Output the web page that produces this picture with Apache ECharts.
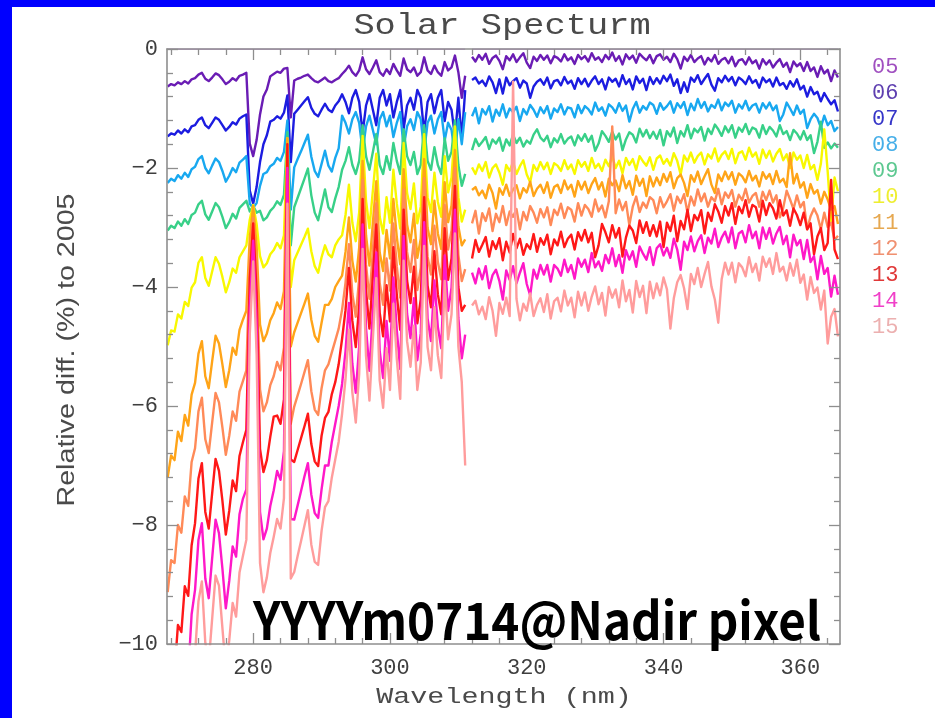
<!DOCTYPE html>
<html>
<head>
<meta charset="utf-8">
<script src="https://cdn.jsdelivr.net/npm/echarts@6/dist/echarts.min.js"></script>
<style>
html,body{margin:0;padding:0;background:#ffffff;}
#chart{width:935px;height:718px;}
</style>
</head>
<body>
<div id="chart"></div>
<script>
// Sampling grids (nm) of the two UV channels
const wavelengthUV1 = [267.5,268,268.5,269,269.5,270,270.5,271,271.5,272,272.5,273,273.5,274,274.5,275,275.5,276,276.5,277,277.5,278,278.5,279,279.5,280,280.5,281,281.5,282,282.5,283,283.5,284,284.5,285,285.5,286,286.5,287,287.5,288,288.5,289,289.5,290,290.5,291,291.5,292,292.5,293,293.5,294,294.5,295,295.5,296,296.5,297,297.5,298,298.5,299,299.5,300,300.5,301,301.5,302,302.5,303,303.5,304,304.5,305,305.5,306,306.5,307,307.5,308,308.5,309,309.5,310,310.5,311];
const wavelengthUV2 = [312,312.5,313,313.5,314,314.5,315,315.5,316,316.5,317,317.5,318,318.5,319,319.5,320,320.5,321,321.5,322,322.5,323,323.5,324,324.5,325,325.5,326,326.5,327,327.5,328,328.5,329,329.5,330,330.5,331,331.5,332,332.5,333,333.5,334,334.5,335,335.5,336,336.5,337,337.5,338,338.5,339,339.5,340,340.5,341,341.5,342,342.5,343,343.5,344,344.5,345,345.5,346,346.5,347,347.5,348,348.5,349,349.5,350,350.5,351,351.5,352,352.5,353,353.5,354,354.5,355,355.5,356,356.5,357,357.5,358,358.5,359,359.5,360,360.5,361,361.5,362,362.5,363,363.5,364,364.5,365,365.5];

// Year labels
const years = ['05','06','07','08','09','10','11','12','13','14','15'];

// 2005 is the reference year: zero difference
const ref05Wavelength = [267.5, 311, 312, 365.5];
const diff05 = [0, 0, 0, 0];

// Relative difference (%) to 2005, UV1 channel
const diff06UV1 = [-0.63,-0.59,-0.61,-0.56,-0.59,-0.54,-0.58,-0.51,-0.49,-0.43,-0.40,-0.50,-0.54,-0.48,-0.41,-0.44,-0.51,-0.59,-0.55,-0.49,-0.53,-0.45,-0.43,-0.40,-1.59,-1.80,-1.53,-1.10,-0.80,-0.68,-0.46,-0.42,-0.38,-0.40,-0.33,-0.32,-1.15,-0.53,-0.50,-0.48,-0.45,-0.43,-0.49,-0.54,-0.56,-0.52,-0.48,-0.54,-0.56,-0.52,-0.49,-0.42,-0.36,-0.28,-0.39,-0.45,-0.36,-0.14,-0.34,-0.42,-0.31,-0.19,-0.39,-0.45,-0.34,-0.42,-0.25,-0.36,-0.45,-0.16,-0.34,-0.39,-0.31,-0.45,-0.39,-0.14,-0.36,-0.42,-0.28,-0.39,-0.45,-0.22,-0.36,-0.31,-0.11,-0.39,-0.82,-0.45];
const diff07UV1 = [-1.47,-1.42,-1.44,-1.37,-1.42,-1.35,-1.40,-1.30,-1.28,-1.19,-1.15,-1.28,-1.33,-1.24,-1.15,-1.19,-1.28,-1.37,-1.31,-1.23,-1.27,-1.17,-1.13,-1.10,-2.38,-2.60,-2.32,-1.90,-1.60,-1.45,-1.22,-1.19,-1.13,-1.17,-1.07,-0.78,-1.90,-1.09,-1.02,-0.95,-0.88,-0.81,-0.99,-1.09,-1.13,-1.02,-0.92,-1.02,-1.06,-0.95,-0.88,-0.76,-0.89,-1.08,-0.82,-0.69,-0.89,-1.41,-0.95,-0.76,-1.02,-1.28,-0.82,-0.69,-0.95,-0.76,-1.15,-0.89,-0.69,-1.34,-0.95,-0.82,-1.02,-0.69,-0.82,-1.41,-0.89,-0.76,-1.08,-0.82,-0.69,-1.21,-0.89,-1.02,-1.47,-0.82,-1.50,-0.69];
const diff08UV1 = [-2.25,-2.18,-2.22,-2.12,-2.18,-2.08,-2.15,-2.02,-1.98,-1.85,-1.80,-2.00,-2.09,-1.96,-1.84,-1.90,-2.05,-2.23,-2.13,-2.00,-2.07,-1.91,-1.86,-1.80,-2.60,-2.67,-2.59,-2.30,-2.10,-2.07,-1.97,-1.93,-1.83,-1.88,-1.73,-1.20,-2.70,-1.99,-1.85,-1.72,-1.58,-1.44,-1.81,-2.05,-2.15,-1.93,-1.71,-1.96,-2.06,-1.83,-1.67,-1.12,-1.24,-1.42,-1.18,-1.06,-1.24,-1.72,-1.30,-1.12,-1.36,-1.60,-1.18,-1.06,-1.30,-1.12,-1.48,-1.24,-1.06,-1.66,-1.30,-1.18,-1.36,-1.06,-1.18,-1.72,-1.24,-1.12,-1.42,-1.18,-1.06,-1.54,-1.24,-1.36,-1.78,-1.18,-1.60,-1.06];
const diff09UV1 = [-3.05,-2.97,-3.01,-2.90,-2.97,-2.86,-2.94,-2.79,-2.75,-2.61,-2.55,-2.78,-2.87,-2.73,-2.59,-2.66,-2.82,-3.01,-2.91,-2.77,-2.85,-2.67,-2.61,-2.55,-2.73,-2.64,-2.75,-2.72,-2.88,-2.83,-2.72,-2.66,-2.56,-2.62,-2.45,-1.40,-3.30,-2.66,-2.50,-2.34,-2.18,-2.01,-2.46,-2.75,-2.88,-2.62,-2.36,-2.66,-2.74,-2.51,-2.32,-2.03,-1.88,-1.65,-1.95,-2.10,-1.88,-1.28,-1.80,-2.03,-1.73,-1.43,-1.95,-2.10,-1.80,-2.03,-1.58,-1.88,-2.10,-1.35,-1.80,-1.95,-1.73,-2.10,-1.95,-1.28,-1.88,-2.03,-1.65,-1.95,-2.10,-1.50,-1.88,-1.73,-1.20,-1.95,-2.30,-2.10];
const diff10UV1 = [-4.98,-4.73,-4.75,-4.46,-4.53,-4.25,-4.32,-4.01,-3.92,-3.59,-3.50,-3.85,-3.98,-3.74,-3.50,-3.61,-3.83,-4.09,-3.92,-3.69,-3.76,-3.50,-3.40,-3.30,-2.87,-2.62,-2.94,-3.48,-3.67,-3.60,-3.45,-3.38,-3.26,-3.35,-3.13,-1.50,-4.00,-3.55,-3.42,-3.29,-3.16,-3.02,-3.40,-3.65,-3.76,-3.50,-3.30,-3.45,-3.50,-3.30,-3.20,-3.13,-2.79,-2.28,-2.92,-3.23,-2.74,-1.46,-2.55,-3.01,-2.38,-1.76,-2.82,-3.10,-2.49,-2.92,-2.03,-2.60,-3.02,-1.58,-2.42,-2.69,-2.26,-2.93,-2.65,-1.43,-2.49,-2.74,-2.08,-2.57,-2.82,-1.80,-2.41,-2.16,-1.30,-2.49,-2.90,-2.70];
const diff11UV1 = [-7.20,-6.83,-6.91,-6.43,-6.59,-6.15,-6.33,-5.81,-5.61,-5.12,-4.91,-5.50,-5.70,-5.25,-4.82,-4.95,-5.30,-5.68,-5.40,-5.02,-5.14,-4.72,-4.55,-4.40,-3.17,-2.64,-3.30,-4.63,-4.91,-4.78,-4.56,-4.44,-4.26,-4.37,-4.07,-1.50,-5.00,-4.76,-4.60,-4.44,-4.28,-4.11,-4.55,-4.82,-4.92,-4.60,-4.30,-4.30,-4.20,-4.00,-3.90,-3.81,-3.41,-2.83,-3.56,-3.91,-3.34,-1.88,-3.13,-3.64,-2.92,-2.22,-3.42,-3.73,-3.04,-3.52,-2.52,-3.16,-3.62,-2.02,-2.95,-3.25,-2.77,-3.51,-3.19,-1.85,-3.01,-3.28,-2.55,-3.10,-3.36,-2.24,-2.91,-2.63,-1.70,-2.98,-3.30,-3.20];
const diff12UV1 = [-9.13,-8.59,-8.64,-8.00,-8.13,-7.52,-7.68,-6.94,-6.71,-6.09,-5.86,-6.56,-6.79,-6.28,-5.78,-5.94,-6.36,-6.82,-6.50,-6.09,-6.25,-5.76,-5.58,-5.40,-3.57,-2.84,-3.76,-5.72,-6.09,-5.94,-5.65,-5.50,-5.26,-5.40,-5.02,-1.70,-6.30,-6.01,-5.82,-5.63,-5.43,-5.23,-5.75,-6.06,-6.15,-5.70,-5.40,-5.30,-5.10,-4.90,-4.70,-4.38,-3.93,-3.28,-4.11,-4.50,-3.85,-2.20,-3.62,-4.20,-3.39,-2.59,-3.93,-4.30,-3.52,-4.06,-2.93,-3.65,-4.18,-2.36,-3.41,-3.75,-3.21,-4.05,-3.68,-2.17,-3.49,-3.79,-2.97,-3.58,-3.87,-2.62,-3.37,-3.05,-2.00,-3.46,-3.90,-3.70];
const diff13UV1 = [-11.17,-10.47,-10.48,-9.68,-9.80,-9.03,-9.19,-8.34,-7.97,-7.22,-6.96,-7.78,-8.06,-7.47,-6.89,-7.09,-7.59,-8.16,-7.76,-7.25,-7.43,-6.84,-6.61,-6.40,-3.86,-2.93,-4.09,-6.72,-7.11,-6.91,-6.52,-6.18,-6.16,-6.30,-5.89,-1.60,-6.90,-6.94,-6.74,-6.54,-6.34,-6.13,-6.64,-6.93,-7.01,-6.50,-6.20,-6.10,-5.80,-5.60,-5.30,-4.87,-4.39,-3.68,-4.57,-5.01,-4.32,-2.52,-4.06,-4.70,-3.82,-2.95,-4.43,-4.83,-3.97,-4.58,-3.33,-4.13,-4.72,-2.70,-3.89,-4.27,-3.66,-4.61,-4.21,-2.49,-3.98,-4.34,-3.40,-4.12,-4.46,-3.01,-3.88,-3.52,-2.30,-4.00,-4.40,-4.30];
const diff14UV1 = [-12.63,-11.85,-11.89,-10.98,-11.12,-10.27,-10.50,-9.50,-9.09,-8.25,-7.97,-8.90,-9.23,-8.56,-7.91,-8.14,-8.73,-9.40,-8.94,-8.36,-8.53,-7.82,-7.56,-7.40,-4.33,-3.22,-4.61,-7.78,-8.24,-8.06,-7.68,-7.42,-7.09,-7.24,-6.76,-2.00,-7.90,-7.91,-7.67,-7.43,-7.18,-6.96,-7.49,-7.80,-7.88,-7.40,-7.00,-7.00,-6.60,-6.30,-6.00,-5.63,-5.08,-4.27,-5.29,-5.78,-4.99,-2.95,-4.69,-5.41,-4.41,-3.42,-5.08,-5.53,-4.57,-5.24,-3.84,-4.73,-5.38,-3.14,-4.45,-4.86,-4.19,-5.23,-4.78,-2.91,-4.53,-4.91,-3.89,-4.67,-5.03,-3.47,-4.40,-4.01,-2.70,-4.52,-5.20,-4.80];
const diff15UV1 = [-13.61,-12.85,-12.93,-12.00,-12.20,-11.33,-11.58,-10.59,-10.17,-9.28,-8.95,-9.98,-10.31,-9.58,-8.85,-9.02,-9.73,-10.42,-9.94,-9.31,-9.54,-8.80,-8.52,-8.25,-4.80,-3.57,-5.11,-8.64,-9.13,-8.88,-8.47,-8.20,-7.90,-8.06,-7.55,-2.60,-8.90,-8.79,-8.52,-8.27,-8.01,-7.75,-8.33,-8.62,-8.67,-8.10,-7.70,-7.60,-7.20,-6.90,-6.60,-6.13,-5.55,-4.72,-5.77,-6.28,-5.46,-3.36,-5.16,-5.91,-4.87,-3.85,-5.57,-6.03,-5.03,-5.73,-4.28,-5.21,-5.88,-3.56,-4.91,-5.34,-4.65,-5.73,-5.27,-3.31,-5.01,-5.40,-4.34,-5.15,-5.53,-3.90,-4.88,-4.46,-3.10,-5.00,-5.60,-7.00];

// Relative difference (%) to 2005, UV2 channel
const diff06UV2 = [-0.13,-0.21,-0.10,-0.18,-0.08,-0.25,-0.15,-0.11,-0.20,-0.34,-0.12,-0.19,-0.09,-0.22,-0.14,-0.07,-0.23,-0.32,-0.13,-0.20,-0.10,-0.18,-0.11,-0.24,-0.12,-0.15,-0.21,-0.09,-0.19,-0.14,-0.25,-0.10,-0.17,-0.12,-0.21,-0.07,-0.18,-0.14,-0.22,-0.10,-0.17,-0.06,-0.20,-0.12,-0.26,-0.09,-0.17,-0.11,-0.23,-0.08,-0.14,-0.19,-0.10,-0.24,-0.12,-0.09,-0.18,-0.13,-0.22,-0.08,-0.17,-0.33,-0.13,-0.20,-0.10,-0.22,-0.16,-0.12,-0.26,-0.15,-0.21,-0.10,-0.25,-0.18,-0.15,-0.24,-0.13,-0.29,-0.19,-0.17,-0.26,-0.14,-0.24,-0.19,-0.33,-0.17,-0.26,-0.19,-0.31,-0.23,-0.17,-0.30,-0.23,-0.39,-0.21,-0.29,-0.24,-0.37,-0.22,-0.37,-0.31,-0.47,-0.29,-0.41,-0.35,-0.54,-0.36,-0.48];
const diff07UV2 = [-0.52,-0.48,-0.58,-0.53,-0.62,-0.46,-0.56,-0.74,-0.51,-0.75,-0.48,-0.61,-0.54,-0.49,-0.65,-0.53,-0.58,-0.82,-0.63,-0.55,-0.51,-0.60,-0.48,-0.66,-0.54,-0.52,-0.61,-0.47,-0.58,-0.53,-0.67,-0.49,-0.59,-0.50,-0.63,-0.53,-0.46,-0.59,-0.51,-0.68,-0.48,-0.55,-0.50,-0.63,-0.44,-0.59,-0.51,-0.68,-0.46,-0.57,-0.50,-0.69,-0.47,-0.59,-0.49,-0.58,-0.45,-0.54,-0.43,-0.62,-0.51,-0.74,-0.56,-0.72,-0.48,-0.55,-0.44,-0.59,-0.50,-0.42,-0.60,-0.70,-0.49,-0.56,-0.45,-0.54,-0.47,-0.61,-0.48,-0.52,-0.59,-0.46,-0.57,-0.52,-0.65,-0.48,-0.56,-0.51,-0.63,-0.48,-0.61,-0.57,-0.67,-0.54,-0.63,-0.51,-0.68,-0.62,-0.80,-0.64,-0.76,-0.72,-0.88,-0.74,-0.84,-0.93,-0.86,-1.05];
const diff08UV2 = [-1.13,-0.99,-1.25,-1.01,-1.10,-0.96,-1.22,-1.02,-1.12,-0.93,-1.15,-1.00,-1.06,-0.97,-1.21,-1.01,-1.10,-0.94,-1.02,-1.14,-0.98,-1.08,-0.96,-1.17,-1.00,-1.06,-0.93,-1.10,-0.98,-1.00,-1.15,-0.94,-1.08,-0.96,-1.01,-1.10,-0.90,-1.04,-0.98,-1.12,-0.93,-0.98,-1.07,-0.91,-1.04,-0.95,-1.22,-1.01,-0.89,-1.07,-0.96,-1.02,-0.90,-0.94,-1.09,-0.91,-1.02,-0.96,-0.88,-1.07,-0.91,-0.99,-0.89,-1.11,-0.92,-1.03,-0.84,-0.99,-0.89,-1.05,-0.94,-0.99,-0.85,-1.03,-0.90,-0.96,-0.87,-1.07,-0.93,-1.00,-0.87,-1.03,-0.95,-0.92,-1.07,-0.91,-1.00,-0.90,-1.03,-0.95,-1.21,-1.10,-0.90,-1.00,-1.11,-0.95,-1.09,-1.02,-1.33,-1.18,-1.09,-1.16,-1.32,-1.12,-1.28,-1.21,-1.38,-1.31];
const diff09UV2 = [-1.70,-1.51,-1.63,-1.56,-1.48,-1.68,-1.52,-1.59,-1.49,-1.71,-1.52,-1.62,-1.44,-1.58,-1.49,-1.64,-1.54,-1.59,-1.44,-1.35,-1.49,-1.55,-1.46,-1.65,-1.50,-1.57,-1.43,-1.59,-1.51,-1.47,-1.62,-1.45,-1.54,-1.43,-1.56,-1.46,-1.71,-1.59,-1.38,-1.46,-1.56,-1.39,-1.52,-1.42,-1.70,-1.52,-1.40,-1.44,-1.57,-1.34,-1.47,-1.36,-1.50,-1.39,-1.51,-1.36,-1.62,-1.38,-1.47,-1.32,-1.58,-1.38,-1.47,-1.28,-1.50,-1.34,-1.40,-1.31,-1.54,-1.34,-1.43,-1.27,-1.35,-1.46,-1.30,-1.40,-1.28,-1.49,-1.32,-1.39,-1.26,-1.43,-1.32,-1.35,-1.49,-1.28,-1.43,-1.31,-1.37,-1.47,-1.28,-1.43,-1.38,-1.53,-1.36,-1.42,-1.52,-1.38,-1.53,-1.45,-1.75,-1.56,-1.22,-1.66,-1.57,-1.67,-1.59,-1.66];
const diff10UV2 = [-1.99,-2.10,-1.94,-2.05,-1.90,-2.16,-2.00,-1.94,-2.08,-2.28,-1.95,-2.05,-1.90,-2.10,-1.97,-1.87,-2.11,-2.24,-1.95,-2.05,-1.90,-2.02,-1.91,-2.10,-1.92,-1.96,-2.05,-1.87,-2.02,-1.94,-2.10,-1.87,-1.98,-1.90,-2.05,-1.83,-2.00,-1.93,-2.05,-1.86,-1.97,-1.80,-2.00,-1.88,-2.09,-1.83,-1.95,-1.85,-2.03,-1.80,-1.89,-1.96,-1.82,-2.03,-1.84,-1.79,-1.93,-1.85,-1.96,-1.75,-1.88,-2.11,-1.79,-1.89,-1.74,-1.91,-1.80,-1.74,-1.94,-1.77,-1.84,-1.67,-1.89,-1.78,-1.72,-1.85,-1.68,-1.92,-1.75,-1.72,-1.86,-1.66,-1.81,-1.74,-1.93,-1.69,-1.83,-1.71,-1.89,-1.76,-1.68,-1.87,-1.77,-2.00,-1.74,-1.86,-1.79,-2.00,-1.78,-2.02,-1.95,-2.20,-1.93,-1.35,-2.06,-2.90,-2.16,-2.39];
const diff11UV2 = [-2.37,-2.32,-2.46,-2.38,-2.51,-2.28,-2.42,-2.68,-2.34,-2.45,-2.28,-2.47,-2.36,-2.29,-2.51,-2.34,-2.41,-2.23,-2.47,-2.35,-2.28,-2.42,-2.24,-2.50,-2.32,-2.28,-2.42,-2.21,-2.36,-2.28,-2.48,-2.22,-2.36,-2.23,-2.42,-2.27,-2.17,-2.36,-2.24,-2.48,-2.18,-2.29,-2.21,-2.39,-2.12,-2.34,-2.22,-2.45,-2.13,-2.30,-2.18,-2.47,-2.14,-2.31,-2.16,-2.29,-2.10,-2.23,-2.07,-2.34,-2.17,-2.11,-2.25,-2.47,-2.12,-2.23,-2.06,-2.27,-2.14,-2.02,-2.28,-2.42,-2.11,-2.22,-2.06,-2.19,-2.07,-2.28,-2.09,-2.14,-2.24,-2.05,-2.21,-2.13,-2.31,-2.07,-2.18,-2.10,-2.27,-2.05,-2.24,-2.18,-2.32,-1.75,-2.26,-2.10,-2.33,-2.24,-2.50,-2.27,-2.43,-2.37,-2.60,-2.40,-2.53,-2.70,-2.64,-2.94];
const diff12UV2 = [-2.93,-2.72,-3.10,-2.76,-2.89,-2.68,-3.06,-2.77,-2.91,-2.64,-2.96,-2.73,-2.82,-2.69,-3.03,-2.74,-2.88,-2.64,-2.75,-2.92,-2.69,-2.83,-2.66,-2.96,-2.70,-2.79,-2.60,-2.84,-2.66,-2.70,-2.90,-2.59,-2.80,-2.62,-2.69,-2.82,-2.53,-2.73,-2.63,-2.83,-2.56,-1.30,-2.76,-2.53,-2.71,-2.57,-2.96,-2.65,-2.48,-2.74,-2.58,-2.67,-2.49,-2.54,-2.76,-2.49,-2.66,-2.56,-2.44,-2.72,-2.48,-2.59,-2.44,-2.75,-2.48,-2.63,-2.36,-2.56,-2.43,-2.65,-2.49,-2.56,-2.35,-2.61,-2.41,-2.50,-2.37,-2.65,-2.45,-2.54,-2.35,-2.58,-2.47,-2.42,-2.65,-2.40,-2.54,-2.38,-2.58,-2.46,-2.83,-2.67,-2.38,-2.53,-2.69,-2.46,-2.66,-2.57,-3.03,-2.81,-2.68,-2.80,-3.03,-2.75,-2.99,-2.92,-3.21,-3.14];
const diff13UV2 = [-3.52,-3.21,-3.41,-3.29,-3.16,-3.49,-3.23,-3.36,-3.18,-3.55,-3.24,-3.42,-3.11,-3.35,-3.19,-3.46,-3.28,-3.36,-3.11,-3.41,-3.18,-3.29,-3.12,-3.45,-3.20,-3.30,-3.07,-3.33,-3.19,-3.12,-3.37,-3.08,-3.22,-3.04,-3.25,-3.09,-3.50,-3.30,-2.94,-3.08,-3.25,-2.96,-3.17,-3.01,-3.49,-3.17,-2.97,-3.05,-3.26,-2.88,-3.09,-2.91,-3.14,-2.96,-3.15,-2.90,-3.33,-2.92,-3.06,-2.80,-3.23,-2.89,-3.03,-2.70,-3.06,-2.79,-2.88,-2.71,-3.10,-2.75,-2.89,-2.61,-2.73,-2.92,-2.64,-2.80,-2.59,-2.94,-2.65,-2.76,-2.54,-2.82,-2.62,-2.66,-2.90,-2.55,-2.79,-2.59,-2.68,-2.85,-2.54,-2.80,-2.71,-2.97,-2.68,-2.79,-2.96,-2.75,-3.03,-2.93,-3.45,-3.15,-3.01,-3.38,-3.26,-2.20,-3.37,-3.53];
const diff14UV2 = [-3.76,-3.94,-3.69,-3.87,-3.65,-4.02,-3.80,-3.71,-3.90,-4.21,-3.72,-3.88,-3.65,-3.94,-3.76,-3.60,-3.95,-4.14,-3.71,-3.86,-3.63,-3.79,-3.63,-3.91,-3.63,-3.69,-3.81,-3.54,-3.75,-3.63,-3.86,-3.52,-3.66,-3.54,-3.75,-3.43,-3.67,-3.57,-3.73,-3.46,-3.60,-3.35,-3.65,-3.46,-3.76,-3.38,-3.54,-3.40,-3.66,-3.32,-3.44,-3.54,-3.33,-3.63,-3.35,-3.28,-3.47,-3.34,-3.51,-3.19,-3.37,-3.71,-3.24,-3.38,-3.15,-3.40,-3.23,-3.13,-3.43,-3.17,-3.27,-3.02,-3.33,-3.17,-3.07,-3.25,-3.00,-3.35,-3.10,-3.06,-3.25,-2.96,-3.18,-3.07,-3.35,-3.00,-3.19,-3.01,-3.27,-3.10,-2.99,-3.28,-3.14,-3.50,-3.12,-3.30,-3.21,-3.53,-3.21,-3.58,-3.48,-3.87,-3.48,-3.78,-3.68,-4.16,-3.81,-4.13];
const diff15UV2 = [-4.31,-4.23,-4.46,-4.33,-4.54,-4.17,-4.40,-4.82,-4.27,-4.45,-4.18,-4.49,-0.55,-4.20,-4.56,-4.28,-4.40,-4.11,-4.49,-4.30,-4.19,-4.42,-4.12,-4.53,-4.24,-4.18,-4.41,-4.06,-4.31,-4.18,-4.51,-4.08,-4.31,-4.09,-4.40,-4.16,-3.99,-4.29,-4.10,-4.48,-4.00,-4.18,-4.04,-4.34,-3.89,-4.24,-4.05,-4.43,-3.90,-4.17,-3.98,-4.44,-3.91,-4.19,-3.94,-4.14,-3.84,-4.04,-4.70,-4.19,-3.92,-3.80,-4.02,-4.37,-3.78,-3.95,-3.68,-4.00,-3.78,-3.58,-3.99,-4.21,-4.60,-3.87,-3.59,-3.79,-3.59,-3.92,-3.60,-3.67,-3.82,-3.50,-3.75,-3.61,-3.89,-3.49,-3.66,-3.52,-3.78,-3.43,-3.74,-3.66,-3.89,-3.60,-3.81,-3.54,-3.93,-3.79,-4.21,-3.83,-4.10,-4.01,-4.38,-4.06,-4.95,-4.50,-4.37,-4.83];

// Axis ticks
const majorTicksX = [280, 300, 320, 340, 360];
const minorTicksX = [268,272,276,284,288,292,296,304,308,312,316,324,328,332,336,344,348,352,356,364];
const majorTicksY = [0, -2, -4, -6, -8, -10];
const minorTicksY = [-0.4,-0.8,-1.2,-1.6,-2.4,-2.8,-3.2,-3.6,-4.4,-4.8,-5.2,-5.6,-6.4,-6.8,-7.2,-7.6,-8.4,-8.8,-9.2,-9.6];

// Colours per year: line colour and label colour
const lineColors = ['#9a40c8','#6a1cb4','#1c1ce0','#18a8f0','#38d088','#f8f800','#ffa418','#ff8a58','#ff1818','#ff18c8','#ff9c9c'];
const labelColors = ['#a050c0','#5e3fb0','#3535c8','#45aee8','#5cc890','#eeee30','#e6a850','#f09070','#e03838','#f040c8','#ecb0b0'];

const uv1Sets = [null, diff06UV1, diff07UV1, diff08UV1, diff09UV1, diff10UV1, diff11UV1, diff12UV1, diff13UV1, diff14UV1, diff15UV1];
const uv2Sets = [null, diff06UV2, diff07UV2, diff08UV2, diff09UV2, diff10UV2, diff11UV2, diff12UV2, diff13UV2, diff14UV2, diff15UV2];

function zip(xs, ys) { return xs.map((x, k) => [x, ys[k]]); }

// Two channels joined with a break between them
function channelData(k) {
  if (k === 0) {
    return zip(ref05Wavelength.slice(0, 2), diff05.slice(0, 2))
      .concat([[311.5, '-']], zip(ref05Wavelength.slice(2), diff05.slice(2)));
  }
  return zip(wavelengthUV1, uv1Sets[k]).concat([[311.5, '-']], zip(wavelengthUV2, uv2Sets[k]));
}

const X_MIN = 267.4, X_MAX = 365.8;
const frameColor = '#8e8e8e';
const tickFont = '"Liberation Mono", "DejaVu Sans Mono", monospace';

function xAxisDef(position, ticks, len, labels, line) {
  return {
    type: 'value', min: X_MIN, max: X_MAX, position: position, z: 5,
    axisLine: { show: line, onZero: false, lineStyle: { color: frameColor, width: 1.6 } },
    axisTick: { show: true, inside: true, length: len, customValues: ticks, lineStyle: { color: frameColor, width: 1.3 } },
    axisLabel: labels ? { show: true, customValues: ticks, margin: 13, fontFamily: tickFont, fontSize: 22, color: '#3e3e3e' } : { show: false },
    splitLine: { show: false }
  };
}
function yAxisDef(position, ticks, len, labels, line) {
  return {
    type: 'value', min: -10, max: 0, position: position, z: 5,
    axisLine: { show: line, onZero: false, lineStyle: { color: frameColor, width: 1.6 } },
    axisTick: { show: true, inside: true, length: len, customValues: ticks, lineStyle: { color: frameColor, width: 1.3 } },
    axisLabel: labels ? {
      show: true, customValues: ticks, margin: 9, fontFamily: tickFont, fontSize: 22, color: '#3e3e3e',
      formatter: v => (v === 0 ? '0' : '\u2212' + Math.abs(v))
    } : { show: false },
    splitLine: { show: false }
  };
}

const series = years.map((y, k) => ({
  name: y,
  type: 'line',
  xAxisIndex: 0,
  yAxisIndex: 0,
  data: channelData(k),
  showSymbol: false,
  symbol: 'none',
  connectNulls: false,
  clip: true,
  lineStyle: { color: lineColors[k], width: k === 0 ? 1.2 : 2.4, join: 'round' },
  itemStyle: { color: lineColors[k] },
  emphasis: { disabled: true }
}));

const chart = echarts.init(document.getElementById('chart'), null, { renderer: 'canvas' });
chart.setOption({
  animation: false,
  backgroundColor: '#ffffff',
  grid: { left: 167, right: 95, top: 49, bottom: 74, containLabel: false },
  xAxis: [
    xAxisDef('bottom', majorTicksX, 11, true, true),
    xAxisDef('bottom', minorTicksX, 6, false, false),
    xAxisDef('top', majorTicksX, 11, false, true),
    xAxisDef('top', minorTicksX, 6, false, false)
  ],
  yAxis: [
    yAxisDef('left', majorTicksY, 11, true, true),
    yAxisDef('left', minorTicksY, 6, false, false),
    yAxisDef('right', majorTicksY, 11, false, true),
    yAxisDef('right', minorTicksY, 6, false, false)
  ],
  legend: {
    orient: 'vertical', left: 866, top: 56, padding: 0, itemGap: 4,
    itemWidth: 0, itemHeight: 0, selectedMode: false,
    itemStyle: { opacity: 0 }, lineStyle: { opacity: 0 },
    textStyle: { fontFamily: tickFont, fontSize: 22, lineHeight: 22 },
    data: years.map((y, k) => ({ name: y, textStyle: { color: labelColors[k] } }))
  },
  series: series,
  graphic: [
    { type: 'rect', z: 100, shape: { x: 0, y: 0, width: 12, height: 718 }, style: { fill: '#0000ff' } },
    { type: 'rect', z: 100, shape: { x: 0, y: 0, width: 935, height: 7 }, style: { fill: '#0000ff' } },
    { type: 'text', z: 100, x: 502, y: 26, scaleX: 1.22,
      style: { text: 'Solar Specturm', font: '29px ' + tickFont, fill: '#4a4a4a', textAlign: 'center', textVerticalAlign: 'middle' } },
    { type: 'text', z: 100, x: 504, y: 697, scaleX: 1.29,
      style: { text: 'Wavelength (nm)', font: '22px ' + tickFont, fill: '#4a4a4a', textAlign: 'center', textVerticalAlign: 'middle' } },
    { type: 'text', z: 100, x: 68, y: 350, rotation: Math.PI / 2, scaleX: 1.245,
      style: { text: 'Relative diff. (%) to 2005', font: '23px "Liberation Sans", Arial, sans-serif', fill: '#4a4a4a', textAlign: 'center', textVerticalAlign: 'middle' } },
    { type: 'text', z: 120, x: 253, y: 620, scaleX: 0.915,
      style: { text: 'YYYYm0714@Nadir pixel', font: 'bold 52px "Noto Sans CJK KR", "Noto Sans", sans-serif', fill: '#000000', textAlign: 'left', textVerticalAlign: 'middle' } }
  ]
});
</script>
</body>
</html>
